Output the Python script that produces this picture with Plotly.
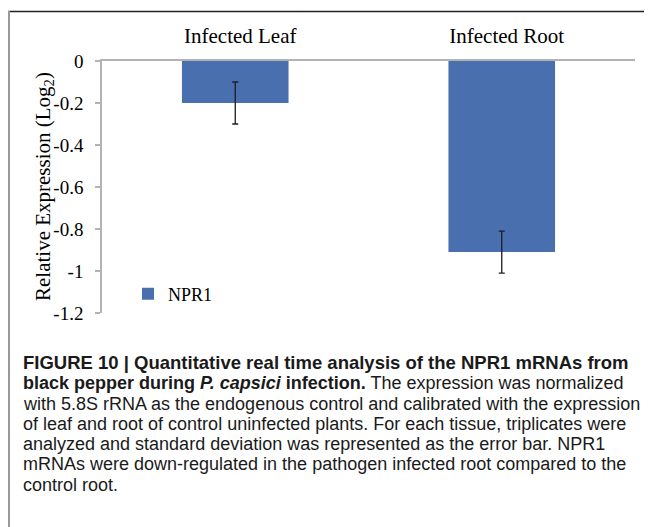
import plotly.graph_objects as go

categories = ["Infected Leaf", "Infected Root"]
expression = [-0.2, -0.91]
std_dev = [0.1, 0.1]
series_name = "NPR1"
tick_vals = [0, -0.2, -0.4, -0.6, -0.8, -1.0, -1.2]
tick_text = ["0", "-0.2", "-0.4", "-0.6", "-0.8", "-1", "-1.2"]
y_title = "Relative Expression (Log<sub>2</sub>)"

caption_lines = [
    "<b>FIGURE 10 | Quantitative real time analysis of the NPR1 mRNAs from</b>",
    "<b>black pepper during <i>P. capsici</i> infection.</b> The expression was normalized",
    "with 5.8S rRNA as the endogenous control and calibrated with the expression",
    "of leaf and root of control uninfected plants. For each tissue, triplicates were",
    "analyzed and standard deviation was represented as the error bar. NPR1",
    "mRNAs were down-regulated in the pathogen infected root compared to the",
    "control root.",
]

# page body has an 8px default margin; the figure is sized to fit the window
OFF = 8
W, H = 652 - OFF, 527 - OFF
L, R, T, B = 102 - OFF, 17, 61 - OFF, 214
pw, ph = W - L - R, H - T - B

serif = "Liberation Serif, Times New Roman, serif"
sans = "Liberation Sans, Arial, sans-serif"

fig = go.Figure()
fig.add_trace(go.Bar(
    x=categories, y=expression, name=series_name,
    marker=dict(color="#4a6fae", line=dict(width=0)),
    error_y=dict(type="data", array=std_dev, visible=True,
                 color="#1c1c28", thickness=1.3, width=3),
    width=0.4,
))

def px_x(x):  # page x -> paper
    return (x - OFF - L) / pw

def px_y(y):  # page y -> paper
    return 1 - (y - OFF - T) / ph

annotations = [dict(
    text=y_title, xref="paper", yref="paper",
    x=px_x(44), y=px_y(187), xanchor="center", yanchor="middle",
    textangle=-90, showarrow=False,
    font=dict(family=serif, size=21, color="black"))]

line_y = [362, 383, 404, 424, 444, 464, 485]
for i, (txt, yy) in enumerate(zip(caption_lines, line_y)):
    annotations.append(dict(
        text=txt, xref="paper", yref="paper",
        x=px_x(21), y=px_y(yy), xanchor="left", yanchor="middle",
        align="left", showarrow=False,
        font=dict(family=sans, size=18.5 if i == 0 else 18, color="#1a1a1a")))

fig.update_layout(
    width=W, height=H,
    margin=dict(l=L, r=R, t=T, b=B, autoexpand=False),
    paper_bgcolor="white", plot_bgcolor="white",
    showlegend=True,
    legend=dict(x=px_x(128), y=px_y(294), xanchor="left", yanchor="middle",
                font=dict(family=serif, size=18, color="black"),
                bgcolor="rgba(0,0,0,0)", borderwidth=0),
    xaxis=dict(side="top", showgrid=False, ticks="", showline=True,
               linecolor="#b3b3b3", linewidth=1.5,
               tickfont=dict(family=serif, size=21, color="black"),
               ticklabelstandoff=8, ticklabelshift=5),
    yaxis=dict(range=[-1.2, 0], tickvals=tick_vals, ticktext=tick_text,
               showgrid=False, zeroline=False, showline=True,
               linecolor="#b3b3b3", linewidth=1.5,
               ticks="outside", ticklen=5, tickcolor="#b3b3b3", tickwidth=1.5,
               tickfont=dict(family=serif, size=19, color="black"),
               ticklabelstandoff=8),
    shapes=[
        dict(type="line", xref="paper", yref="paper",
             x0=px_x(8), x1=px_x(652), y0=px_y(11.5), y1=px_y(11.5),
             line=dict(color="#222222", width=1.5)),
        dict(type="line", xref="paper", yref="paper",
             x0=px_x(9), x1=px_x(9), y0=px_y(11), y1=px_y(527),
             line=dict(color="#999999", width=2)),
    ],
    annotations=annotations,
)

fig.write_html("out.html")
